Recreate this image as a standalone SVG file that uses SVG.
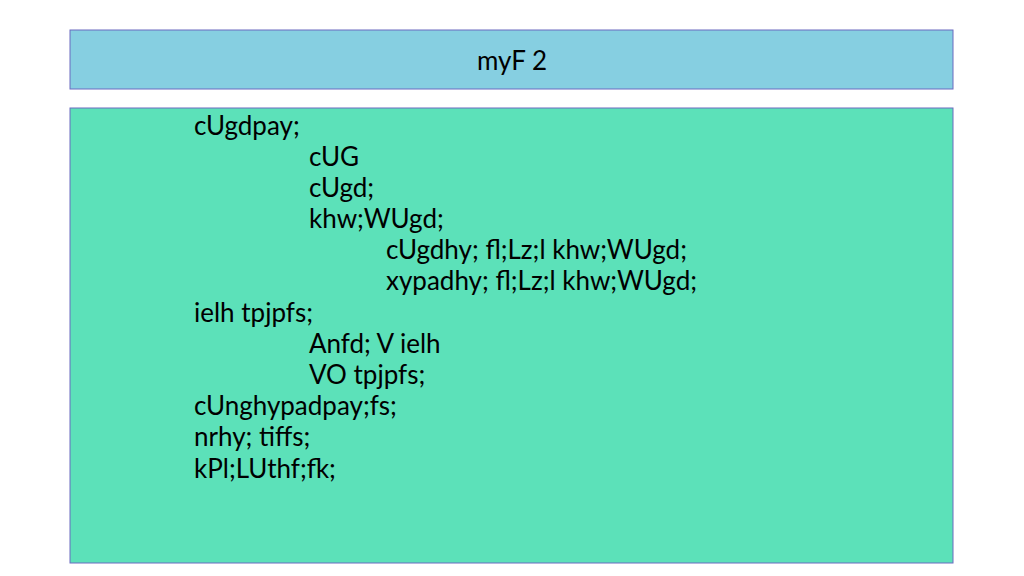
<svg xmlns="http://www.w3.org/2000/svg" width="1024" height="576" viewBox="0 0 1024 576">
<style>
.t{font-family:Lato,"Open Sans",sans-serif;font-size:26px;fill:#000}
</style>
<rect width="1024" height="576" fill="#fff"/>
<g id="title"><rect x="70" y="30" width="883" height="59" fill="#86CFE1" stroke="#6B6BC0" stroke-width="1"/>
<text class="t" x="512" y="70" text-anchor="middle" font-size="28">myF 2</text></g>
<g id="body"><rect x="70" y="108" width="883" height="455" fill="#5CE1B9" stroke="#6B6BC0" stroke-width="1"/>
<text class="t" x="194" y="135">cUgdpay;</text>
<text class="t" x="309" y="166">cUG</text>
<text class="t" x="309" y="197">cUgd;</text>
<text class="t" x="309" y="228">khw;WUgd;</text>
<text class="t" x="386" y="259">cUgdhy; fl;Lz;l khw;WUgd;</text>
<text class="t" x="386" y="290">xypadhy; fl;Lz;l khw;WUgd;</text>
<text class="t" x="194" y="322">ielh tpjpfs;</text>
<text class="t" x="309" y="353">Anfd; V ielh</text>
<text class="t" x="309" y="384">VO tpjpfs;</text>
<text class="t" x="194" y="415">cUnghypadpay;fs;</text>
<text class="t" x="194" y="446">nrhy; tiffs;</text>
<text class="t" x="194" y="478">kPl;LUthf;fk;</text>
</g>
</svg>
